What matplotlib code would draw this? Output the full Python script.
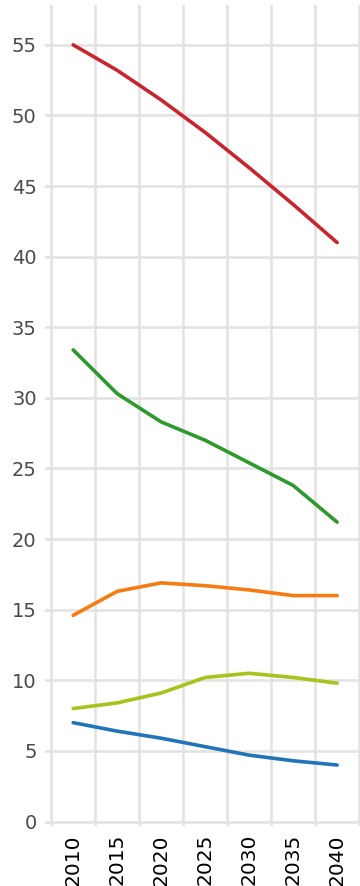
import matplotlib
matplotlib.use("Agg")
import matplotlib.pyplot as plt
from matplotlib.ticker import FixedLocator

years = [2010, 2015, 2020, 2025, 2030, 2035, 2040]
red_vals = [55.0, 53.2, 51.1, 48.8, 46.3, 43.7, 41.0]
green_vals = [33.4, 30.3, 28.3, 27.0, 25.4, 23.8, 21.2]
orange_vals = [14.6, 16.3, 16.9, 16.7, 16.4, 16.0, 16.0]
olive_vals = [8.0, 8.4, 9.1, 10.2, 10.5, 10.2, 9.8]
blue_vals = [7.0, 6.4, 5.9, 5.3, 4.7, 4.3, 4.0]
y_ticks = [0, 5, 10, 15, 20, 25, 30, 35, 40, 45, 50, 55]

series = [
    (red_vals, "#c9252f"),
    (green_vals, "#2e9a2e"),
    (orange_vals, "#f57c12"),
    (olive_vals, "#a9c21c"),
    (blue_vals, "#2274b8"),
]

fig = plt.figure(figsize=(3.6, 8.86), dpi=100)
ax = fig.add_axes([0.125, 0.068, 0.875, 0.926])

for vals, color in series:
    ax.plot(years, vals, color=color, linewidth=2.6, solid_capstyle="round",
            solid_joinstyle="round", zorder=3)

ax.set_xlim(2006.8, 2042.6)
ax.set_ylim(-0.3, 57.8)

ax.set_xticks(years)
ax.set_yticks(y_ticks)
# grid lines sit between the year ticks
ax.xaxis.set_minor_locator(FixedLocator([y - 2.5 for y in years] + [2042.5]))
ax.grid(False)
ax.grid(True, axis="x", which="minor", color="#e2e2e2", linewidth=1.8)
ax.grid(True, axis="y", which="major", color="#e2e2e2", linewidth=1.8)
ax.set_axisbelow(True)

for s in ax.spines.values():
    s.set_visible(False)

ax.tick_params(axis="both", which="both", length=0)
ax.tick_params(axis="y", labelsize=14, labelcolor="#4a4a4a", pad=6)
ax.tick_params(axis="x", labelsize=14.5, labelcolor="#000000", rotation=90, pad=6)

fig.savefig("out.png", dpi=100, facecolor="white")
